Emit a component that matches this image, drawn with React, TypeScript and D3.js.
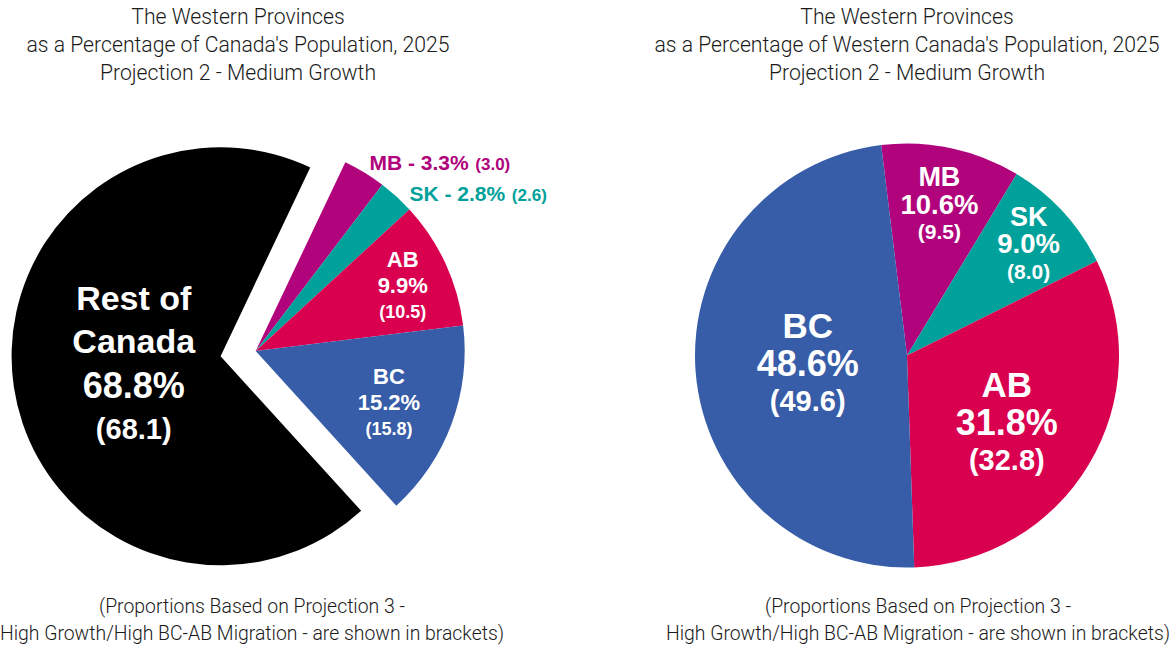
import React from 'react';
import * as d3 from 'd3';

// Share of Canada's population, 2025 (Projection 2), brackets = Projection 3
const canadaNames = ['MB', 'SK', 'AB', 'BC', 'Rest of Canada'];
const canadaValues = [3.3, 2.8, 9.9, 15.2, 68.8];
const canadaBrackets = [3.0, 2.6, 10.5, 15.8, 68.1];

// Share of Western Canada's population, 2025
const westNames = ['MB', 'SK', 'AB', 'BC'];
const westValues = [10.6, 9.0, 31.8, 48.6];
const westBrackets = [9.5, 8.0, 32.8, 49.6];

const leftTitle = [
  'The Western Provinces',
  "as a Percentage of Canada's Population, 2025",
  'Projection 2 - Medium Growth',
];
const rightTitle = [
  'The Western Provinces',
  "as a Percentage of Western Canada's Population, 2025",
  'Projection 2 - Medium Growth',
];
const footnote = [
  '(Proportions Based on Projection 3 -',
  'High Growth/High BC-AB Migration - are shown in brackets)',
];

const colors: Record<string, string> = {
  MB: '#b0037c',
  SK: '#00a19a',
  AB: '#da0050',
  BC: '#375ca8',
  'Rest of Canada': '#000000',
};

const W = 1172;
const H = 646;
const thinFont = "Roboto, 'DejaVu Sans Condensed', sans-serif";
const boldFont = "'Liberation Sans', Arial, sans-serif";
const deg = Math.PI / 180;

type Slice = d3.PieArcDatum<number> & { name: string; bracket: number };

function makeSlices(names: string[], values: number[], brackets: number[], start: number): Slice[] {
  const pie = d3.pie<number>().sort(null).value(d => d)
    .startAngle(start * deg).endAngle(start * deg + 2 * Math.PI);
  return pie(values).map((p, i) => ({ ...p, name: names[i], bracket: brackets[i] }));
}

const polar = (a: number, rad: number): [number, number] => [Math.sin(a) * rad, -Math.cos(a) * rad];
const mid = (s: Slice) => (s.startAngle + s.endAngle) / 2;

// stacked label lines: [text, size]
function Stack({ x, y, lines, gap }: { x: number; y: number; lines: [string, number][]; gap: number }) {
  const n = lines.length;
  return (
    <text x={x} y={y} textAnchor="middle" fill="#fff" fontFamily={boldFont} fontWeight="bold">
      {lines.map(([t, s], i) => (
        <tspan key={i} x={x} y={y + (i - (n - 1) / 2) * gap} dy="0.36em" fontSize={s}>{t}</tspan>
      ))}
    </text>
  );
}

function Title({ cx, lines }: { cx: number; lines: string[] }) {
  return (
    <text textAnchor="middle" fontFamily={thinFont} fontWeight={300} fontSize={21.2} fill="#1a1a1a">
      {lines.map((t, i) => (
        <tspan key={i} x={cx} y={24 + i * 28}>{t}</tspan>
      ))}
    </text>
  );
}

function Foot({ cx }: { cx: number }) {
  return (
    <text textAnchor="middle" fontFamily={thinFont} fontWeight={300} fontSize={19.4} fill="#1a1a1a">
      {footnote.map((t, i) => (
        <tspan key={i} x={cx} y={613 + i * 27}>{t}</tspan>
      ))}
    </text>
  );
}

function LeftPie() {
  const cx = 255.7, cy = 351, r = 209, explode = 35.5;
  const slices = makeSlices(canadaNames, canadaValues, canadaBrackets, 25.4);
  const arc = d3.arc<Slice>().innerRadius(0).outerRadius(r);
  const labelR: Record<string, number> = { AB: 0.775, BC: 0.68, 'Rest of Canada': 0.42 };
  const nudge: Record<string, [number, number]> = { AB: [0, 2.5], BC: [0, 2], 'Rest of Canada': [0, -6] };
  const outside: Record<string, [number, number]> = { MB: [5, -10], SK: [13, -3] };
  return (
    <g>
      {slices.map(s => {
        const off = s.name === 'Rest of Canada' ? polar(mid(s), explode) : [0, 0];
        return (
          <path key={s.name} d={arc(s) || ''} fill={colors[s.name]}
            transform={`translate(${cx + off[0]},${cy + off[1]})`} />
        );
      })}
      {slices.map(s => {
        const pct = `${s.value.toFixed(1)}%`;
        const br = `(${s.bracket.toFixed(1)})`;
        if (outside[s.name]) {
          const [ox, oy] = polar(mid(s), r);
          const [dx, dy] = outside[s.name];
          return (
            <text key={s.name} x={cx + ox + dx} y={cy + oy + dy} dy="0.36em" fill={colors[s.name]}
              fontFamily={boldFont} fontWeight="bold" fontSize={21}>
              {`${s.name} - ${pct}`}
              <tspan fontSize={17} dx={2}>{` ${br}`}</tspan>
            </text>
          );
        }
        const [nx, ny] = nudge[s.name];
        if (s.name === 'Rest of Canada') {
          const [ex, ey] = polar(mid(s), explode);
          const [lx, ly] = polar(mid(s), r * labelR[s.name]);
          return (
            <Stack key={s.name} x={cx + ex + lx + nx} y={cy + ey + ly + ny} gap={43.8}
              lines={[['Rest of', 34], ['Canada', 34], [pct, 36], [br, 29]]} />
          );
        }
        const [lx, ly] = polar(mid(s), r * labelR[s.name]);
        return (
          <Stack key={s.name} x={cx + lx + nx} y={cy + ly + ny} gap={26.5}
            lines={[[s.name, 22], [pct, 22], [br, 18]]} />
        );
      })}
    </g>
  );
}

function RightPie() {
  const cx = 907, cy = 355.5, r = 212;
  const slices = makeSlices(westNames, westValues, westBrackets, -7);
  const arc = d3.arc<Slice>().innerRadius(0).outerRadius(r);
  const labelR: Record<string, number> = { MB: 0.73, SK: 0.78, AB: 0.57, BC: 0.47 };
  const nudge: Record<string, [number, number]> = { MB: [0, 0], SK: [0, 0], AB: [-4, 5], BC: [0, 0] };
  return (
    <g transform={`translate(${cx},${cy})`}>
      {slices.map(s => (
        <path key={s.name} d={arc(s) || ''} fill={colors[s.name]} />
      ))}
      {slices.map(s => {
        const [lx, ly] = polar(mid(s), r * labelR[s.name]);
        const [nx, ny] = nudge[s.name];
        const big = s.value > 20;
        const pct = `${s.value.toFixed(1)}%`;
        const br = `(${s.bracket.toFixed(1)})`;
        return big ? (
          <Stack key={s.name} x={lx + nx} y={ly + ny} gap={37.5} lines={[[s.name, 35], [pct, 36], [br, 29]]} />
        ) : (
          <Stack key={s.name} x={lx + nx} y={ly + ny} gap={27.5} lines={[[s.name, 27], [pct, 27.5], [br, 21]]} />
        );
      })}
    </g>
  );
}

export default function App() {
  return (
    <svg width={W} height={H} style={{ position: 'absolute', left: 0, top: 0, background: '#fff' }}>
      <Title cx={238} lines={leftTitle} />
      <Title cx={907} lines={rightTitle} />
      <LeftPie />
      <RightPie />
      <Foot cx={252} />
      <Foot cx={918} />
    </svg>
  );
}
